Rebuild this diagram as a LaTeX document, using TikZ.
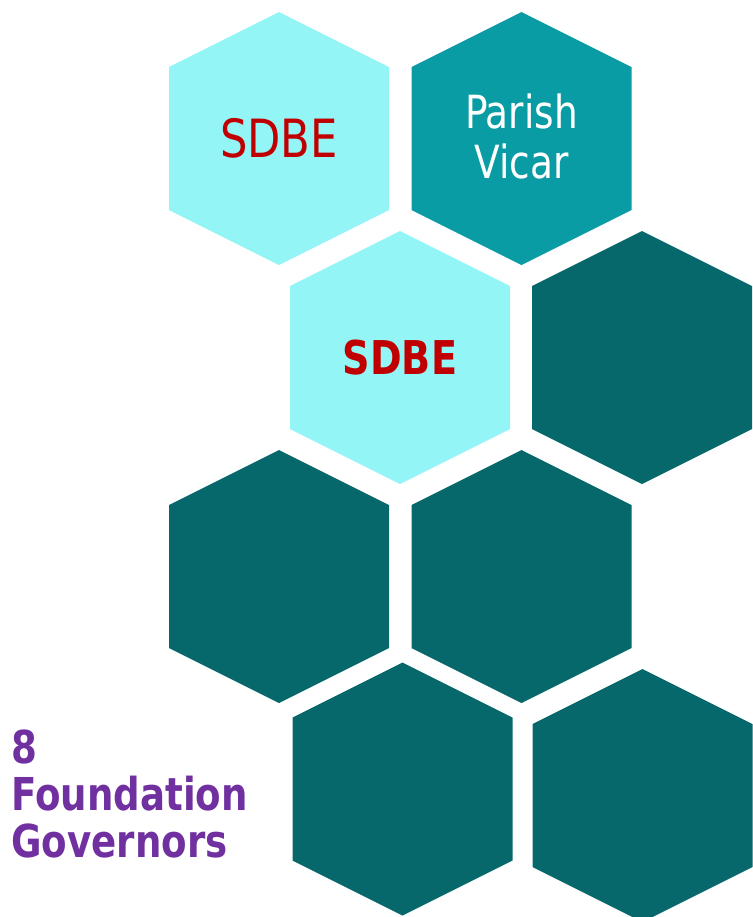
\documentclass[tikz,border=0pt]{standalone}
\usepackage{fontspec}
\setmainfont{DejaVu Sans}[FakeStretch=0.82]
\usetikzlibrary{positioning}
\definecolor{hexlight}{HTML}{94F5F7}
\definecolor{hexmid}{HTML}{0A9CA4}
\definecolor{hexdark}{HTML}{07686B}
\definecolor{sdbered}{HTML}{C00000}
\definecolor{govpurple}{HTML}{7030A0}

\begin{document}
\begin{tikzpicture}[x=0.02cm,y=-0.02cm,
                    hexcell/.pic={\fill (0,-126.5) -- (110,-71.5) -- (110,71.5) -- (0,126.5)
                                    -- (-110,71.5) -- (-110,-71.5) -- cycle;},
                    label text/.style={inner sep=0pt,anchor=base}
                   ]
             \useasboundingbox (0,0) rectangle (753,917);
             \clip (0,0) rectangle (753,917);
             \coordinate (1) at (279,138.5);
             \coordinate (2) at (521.5,138.5);
             \coordinate (3) at (400,357.5);
             \coordinate (4) at (642,357.5);
             \coordinate (5) at (279,576.5);
             \coordinate (6) at (521.5,576.5);
             \coordinate (7) at (402.5,789);
             \coordinate (8) at (642.5,795.5);
             \pic[fill=hexlight] at (1) {hexcell};
             \pic[fill=hexmid] at (2) {hexcell};
             \pic[fill=hexlight] at (3) {hexcell};
             \foreach \h in {4,...,8}
               \pic[fill=hexdark] at (\h) {hexcell};
             % base anchor of a multi-line node sits on its last line
             \node[label text,text=sdbered,font=\fontsize{30}{36}\selectfont] (sdbe1) at (279,157) {SDBE};
             \node[label text,text=white,align=center,font=\fontsize{26}{27.9}\selectfont] (vicar) at (521.5,178) {Parish\\Vicar};
             \node[label text,text=sdbered,font=\bfseries\fontsize{26.5}{32}\selectfont] (sdbe2) at (400,374) {SDBE};
             \node[label text,anchor=base west,text=govpurple,align=left,font=\bfseries\fontsize{25.8}{26.5}\selectfont] (gov) at (11,857) {8\\Foundation\\Governors};
         \end{tikzpicture}
\end{document}
